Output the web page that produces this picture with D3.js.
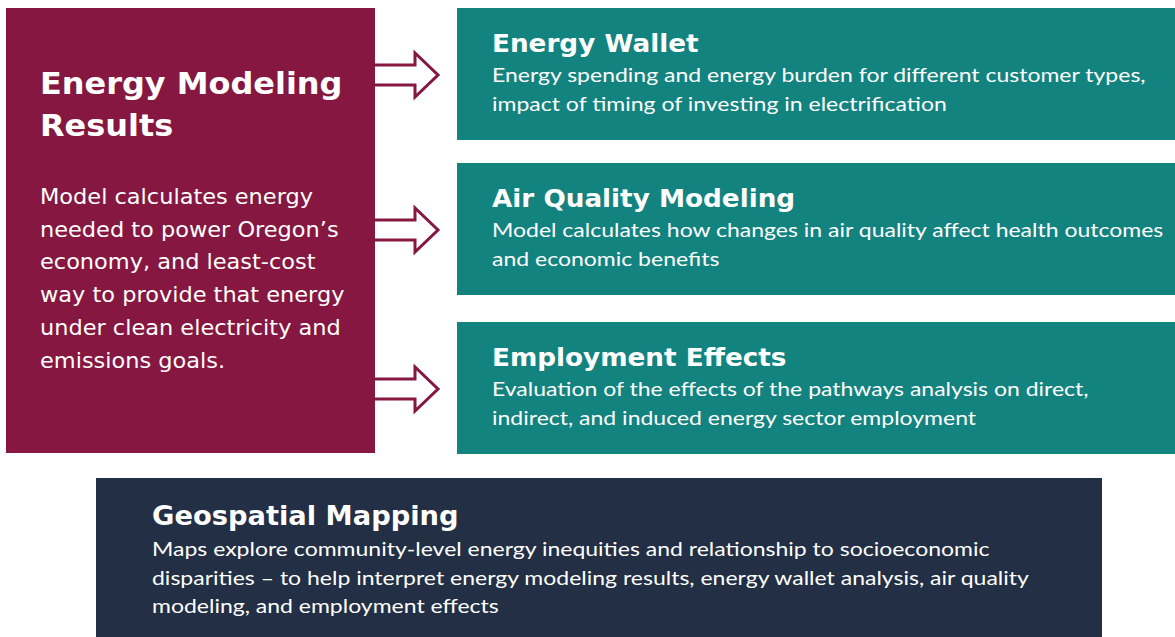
<!DOCTYPE html>
<html>
<head>
<meta charset="utf-8">
<script src="https://cdn.jsdelivr.net/npm/d3@7"></script>
<style>
  body { margin: 0; background: #fff; }
</style>
</head>
<body>
<script>
// content of the diagram
const mainTitle = ["Energy Modeling", "Results"];
const mainBody = ["Model calculates energy", "needed to power Oregon\u2019s", "economy, and least-cost",
  "way to provide that energy", "under clean electricity and", "emissions goals."];

const outputTitles = ["Energy Wallet", "Air Quality Modeling", "Employment Effects"];
const outputBodies = [
  ["Energy spending and energy burden for different customer types,", "impact of timing of investing in electrification"],
  ["Model calculates how changes in air quality affect health outcomes", "and economic benefits"],
  ["Evaluation of the effects of the pathways analysis on direct,", "indirect, and induced energy sector employment"]
];

const geoTitle = "Geospatial Mapping";
const geoBody = ["Maps explore community-level energy inequities and relationship to socioeconomic",
  "disparities \u2013 to help interpret energy modeling results, energy wallet analysis, air quality",
  "modeling, and employment effects"];

const W = 1175, H = 637;
const maroon = "#851741", teal = "#13837F", navy = "#222F45";
const headFont = "'DejaVu Sans', sans-serif";
const bodyFont = "Lato, sans-serif";

const svg = d3.select("body").append("svg")
  .attr("width", W)
  .attr("height", H);

// stretch text horizontally by factor k (the original fonts run wider)
function stretch(sel, k) {
  sel.each(function() {
    const w = this.getComputedTextLength();
    d3.select(this)
      .attr("textLength", w * k)
      .attr("lengthAdjust", "spacingAndGlyphs");
  });
}

// main box on the left
svg.append("rect")
  .attr("x", 6).attr("y", 8)
  .attr("width", 369).attr("height", 445)
  .attr("fill", maroon);

svg.selectAll(".mtitle")
  .data(mainTitle)
  .enter().append("text")
  .attr("x", 40)
  .attr("y", (d, i) => 94 + i * 42)
  .attr("fill", "white")
  .style("font-family", headFont)
  .style("font-weight", "bold")
  .style("font-size", "31px")
  .text(d => d)
  .call(stretch, 1.03);

svg.selectAll(".mbody")
  .data(mainBody)
  .enter().append("text")
  .attr("x", 40)
  .attr("y", (d, i) => 204 + i * 32.7)
  .attr("fill", "white")
  .style("font-family", headFont)
  .style("font-size", "22px")
  .text(d => d)
  .call(stretch, 1.02);

// three teal boxes
const rows = d3.scaleOrdinal()
  .domain(outputTitles)
  .range([8, 163, 322]);
const boxH = 132;

const g = svg.selectAll(".out")
  .data(outputTitles)
  .enter().append("g")
  .attr("transform", d => `translate(0,${rows(d)})`);

g.append("rect")
  .attr("x", 457).attr("y", 0)
  .attr("width", W - 457).attr("height", boxH)
  .attr("fill", teal);

g.append("text")
  .attr("x", 492).attr("y", 44)
  .attr("fill", "white")
  .style("font-family", headFont)
  .style("font-weight", "bold")
  .style("font-size", "25px")
  .text(d => d)
  .call(stretch, 1.05);

g.each(function(d, i) {
  d3.select(this).selectAll(".ob")
    .data(outputBodies[i])
    .enter().append("text")
    .attr("x", 492)
    .attr("y", (t, j) => 74 + j * 29)
    .attr("fill", "white")
    .style("font-family", bodyFont)
    .style("font-size", "19px")
    .text(t => t)
    .call(stretch, 1.21);
});

// hollow arrows from the main box to each output box
function arrowPath(cy) {
  const x0 = 375, xb = 415, xt = 438, hs = 10, hh = 22;
  return "M" + [x0, cy - hs] + "L" + [xb, cy - hs] + " " + [xb, cy - hh] + " " + [xt, cy] +
    " " + [xb, cy + hh] + " " + [xb, cy + hs] + " " + [x0, cy + hs];
}
svg.selectAll(".arrow")
  .data(outputTitles)
  .enter().append("path")
  .attr("d", d => arrowPath(rows(d) + 67))
  .attr("fill", "white")
  .attr("stroke", maroon)
  .attr("stroke-width", 3);

// bottom box
svg.append("rect")
  .attr("x", 96).attr("y", 478)
  .attr("width", 1006).attr("height", H - 478)
  .attr("fill", navy);

svg.append("text")
  .attr("x", 152).attr("y", 525)
  .attr("fill", "white")
  .style("font-family", headFont)
  .style("font-weight", "bold")
  .style("font-size", "26px")
  .text(geoTitle)
  .call(stretch, 1.05);

svg.selectAll(".gb")
  .data(geoBody)
  .enter().append("text")
  .attr("x", 152)
  .attr("y", (d, i) => 556 + i * 28.5)
  .attr("fill", "white")
  .style("font-family", bodyFont)
  .style("font-size", "19px")
  .text(d => d)
  .call(stretch, 1.21);
</script>
</body>
</html>
